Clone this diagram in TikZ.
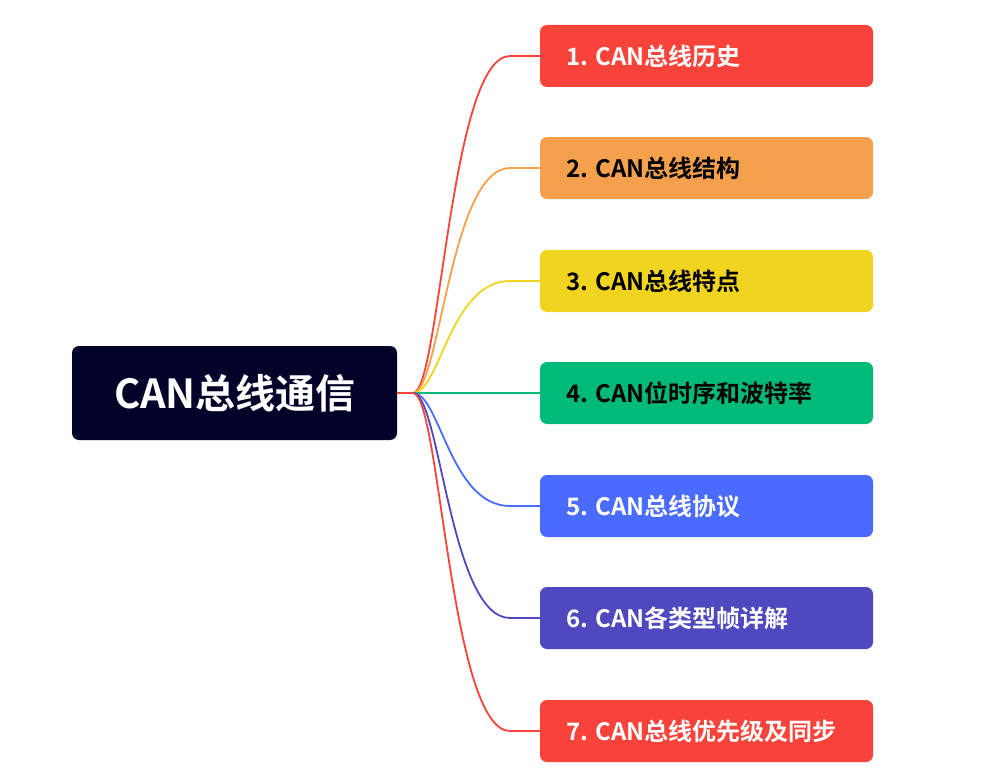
\documentclass[tikz,border=0pt]{standalone}
\usepackage{fontspec}
\setmainfont{Noto Sans CJK SC}[BoldFont={Noto Sans CJK SC Bold}]
\definecolor{cRed}{HTML}{F8433B}
\definecolor{cOra}{HTML}{F5A04C}
\definecolor{cYel}{HTML}{F0D41F}
\definecolor{cGrn}{HTML}{00BA78}
\definecolor{cBlu}{HTML}{4A6BFF}
\definecolor{cPur}{HTML}{4F48BF}
\definecolor{cNav}{HTML}{03032A}
\begin{document}
\begin{tikzpicture}[x=1pt,y=-1pt,
  branch/.style={rounded corners=7pt,minimum width=333pt,minimum height=62pt,inner sep=0pt},
  lbl/.style={font=\bfseries\fontsize{24}{28}\selectfont,anchor=west,inner sep=0pt},
  conn/.style={line width=1.8pt}]
\useasboundingbox[fill=white] (0,0) rectangle (989,784);
\node[fill=cNav,rounded corners=7pt,minimum width=325pt,minimum height=94pt] (root) at (234.5,393) {};
\node[text=white,font=\bfseries\fontsize{40}{46}\selectfont] (rt) at (235,393) {CAN总线通信};
\coordinate (hub) at (413,393);
\draw[conn,cRed] (root.east) -- (hub);
\foreach \i/\y/\c/\t/\tc in {1/56/cRed/{1. CAN总线历史}/white, 2/168/cOra/{2. CAN总线结构}/black, 3/281/cYel/{3. CAN总线特点}/black, 4/393/cGrn/{4. CAN位时序和波特率}/black, 5/506/cBlu/{5. CAN总线协议}/white, 6/618/cPur/{6. CAN各类型帧详解}/white, 7/731/cRed/{7. CAN总线优先级及同步}/white}{
  \node[branch,fill=\c] (b\i) at (706.5,\y) {};
  \node[lbl,text=\tc] (t\i) at (566,\y) {\t};
  \draw[conn,\c] (hub) .. controls (440,393) and (450,\y) .. (510,\y) -- (b\i.west);
}
\end{tikzpicture}
\end{document}
